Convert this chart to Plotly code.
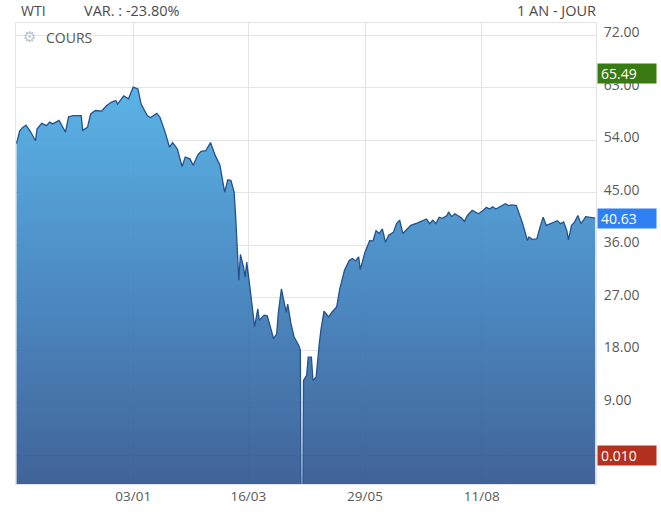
import plotly.graph_objects as go

# ---------------- data ----------------
dates = [
    "2019-10-21", "2019-10-23", "2019-10-25", "2019-10-27", "2019-10-30", "2019-11-02", "2019-11-03",
    "2019-11-06", "2019-11-09", "2019-11-11", "2019-11-13", "2019-11-15", "2019-11-17", "2019-11-21",
    "2019-11-23", "2019-11-26", "2019-12-01", "2019-12-02", "2019-12-05", "2019-12-07", "2019-12-10",
    "2019-12-14", "2019-12-17", "2019-12-20", "2019-12-23", "2019-12-24", "2019-12-28", "2019-12-31",
    "2020-01-03", "2020-01-06", "2020-01-08", "2020-01-12", "2020-01-14", "2020-01-18", "2020-01-20",
    "2020-01-23", "2020-01-26", "2020-01-28", "2020-01-31", "2020-02-03", "2020-02-05", "2020-02-08",
    "2020-02-10", "2020-02-13", "2020-02-15", "2020-02-18", "2020-02-21", "2020-02-24", "2020-02-27",
    "2020-03-01", "2020-03-03", "2020-03-05", "2020-03-07", "2020-03-08", "2020-03-10", "2020-03-11",
    "2020-03-13", "2020-03-14", "2020-03-15", "2020-03-17", "2020-03-18", "2020-03-20", "2020-03-22",
    "2020-03-23", "2020-03-26", "2020-03-28", "2020-03-30", "2020-04-01", "2020-04-03", "2020-04-04",
    "2020-04-06", "2020-04-08", "2020-04-09", "2020-04-10", "2020-04-12", "2020-04-14", "2020-04-17",
    "2020-04-18", "2020-04-19", "2020-04-20", "2020-04-22", "2020-04-23", "2020-04-25", "2020-04-26",
    "2020-04-28", "2020-04-30", "2020-05-01", "2020-05-03", "2020-05-06", "2020-05-08", "2020-05-11",
    "2020-05-13", "2020-05-16", "2020-05-19", "2020-05-21", "2020-05-23", "2020-05-25", "2020-05-26",
    "2020-05-29", "2020-06-01", "2020-06-03", "2020-06-05", "2020-06-07", "2020-06-09", "2020-06-11",
    "2020-06-13", "2020-06-16", "2020-06-18", "2020-06-20", "2020-06-22", "2020-06-24", "2020-06-27",
    "2020-07-01", "2020-07-04", "2020-07-07", "2020-07-09", "2020-07-11", "2020-07-13", "2020-07-15",
    "2020-07-17", "2020-07-20", "2020-07-21", "2020-07-23", "2020-07-25", "2020-07-27", "2020-07-29",
    "2020-07-31", "2020-08-02", "2020-08-05", "2020-08-07", "2020-08-09", "2020-08-12", "2020-08-14",
    "2020-08-16", "2020-08-18", "2020-08-20", "2020-08-22", "2020-08-26", "2020-08-28", "2020-08-30",
    "2020-09-02", "2020-09-04", "2020-09-06", "2020-09-09", "2020-09-10", "2020-09-12", "2020-09-15",
    "2020-09-17", "2020-09-19", "2020-09-21", "2020-09-24", "2020-09-26", "2020-09-28", "2020-09-30",
    "2020-10-02", "2020-10-04", "2020-10-05", "2020-10-07", "2020-10-09", "2020-10-11", "2020-10-13",
    "2020-10-16", "2020-10-20", "2020-10-22",
]
prices = [
    53.4, 55.6, 56.2, 56.6, 55.4, 53.9, 55.9,
    56.9, 56.5, 57.1, 56.8, 57.1, 57.4, 55.4,
    58.0, 58.2, 58.2, 55.7, 56.2, 58.5, 59.1,
    59.0, 59.9, 60.5, 60.8, 60.2, 61.6, 61.1,
    63.1, 62.8, 60.2, 58.2, 57.9, 58.6, 57.9,
    55.6, 52.8, 53.6, 52.5, 49.5, 51.1, 50.8,
    49.7, 51.5, 52.1, 52.2, 53.6, 51.4, 49.7,
    45.1, 47.2, 47.1, 45.1, 40.8, 30.0, 34.4,
    32.2, 30.5, 33.1, 28.8, 26.5, 22.0, 25.1,
    23.1, 24.0, 23.9, 22.0, 20.0, 20.8, 24.3,
    28.5, 26.2, 24.5, 25.9, 22.6, 20.3, 18.8,
    18.0, -37.63, 12.8, 13.7, 16.8, 16.8, 12.8,
    13.4, 19.1, 21.4, 24.7, 23.7, 24.5, 25.4,
    28.5, 31.7, 33.4, 33.7, 33.3, 34.0, 31.8,
    34.8, 36.8, 36.7, 38.5, 38.0, 38.8, 36.5,
    37.7, 38.2, 39.7, 40.3, 38.0, 38.6, 39.4,
    39.8, 40.2, 40.5, 39.7, 40.3, 39.7, 40.8,
    40.6, 41.1, 41.7, 40.9, 41.4, 41.1, 40.7,
    40.1, 41.1, 42.0, 41.7, 41.4, 42.0, 42.5,
    42.2, 42.6, 42.2, 42.5, 43.1, 42.8, 42.9,
    42.8, 41.4, 39.7, 36.8, 37.4, 37.0, 37.1,
    39.1, 40.8, 39.4, 39.7, 40.0, 40.2, 39.7,
    40.0, 38.5, 36.9, 39.4, 40.0, 41.1, 39.7,
    40.9, 40.7, 40.63,
]
x_tick_dates = ["2020-01-03", "2020-03-16", "2020-05-29", "2020-08-11"]
x_tick_labels = ["03/01", "16/03", "29/05", "11/08"]
y_tick_values = [0, 9, 18, 27, 36, 45, 54, 63, 72]
y_tick_labels = [""] + [f"{v:.2f}" for v in y_tick_values[1:]]

instrument = "WTI"
variation = "VAR. : -23.80%"
period = "1 AN - JOUR"
series_name = "COURS"
high_label, high_value = "65.49", 65.49
last_label, last_value = "40.63", 40.63
low_label, low_value = "0.010", 0.01

# ---------------- styling ----------------
Y_RANGE = [-4.95, 74.1]
X_RANGE = ["2019-10-20 16:00", "2020-10-22 12:00"]
FLOOR = -40
FONT = "Open Sans, Arial, sans-serif"
TEXT_COLOR = "#5a5a5a"
HEAD_COLOR = "#4a4a4a"
GRID = "#e4e4e4"

fig = go.Figure()
# invisible floor so the area fills down to the bottom of the plot
fig.add_trace(go.Scatter(x=dates, y=[FLOOR] * len(dates), mode="lines",
                         line=dict(width=0, color="rgba(0,0,0,0)"),
                         hoverinfo="skip", showlegend=False))
fig.add_trace(go.Scatter(
    x=dates, y=prices, mode="lines", name=series_name,
    line=dict(color="#23528f", width=1.3),
    fill="tonexty",
    fillgradient=dict(type="vertical", start=Y_RANGE[0], stop=max(prices),
                      colorscale=[[0, "rgba(50,88,145,0.93)"], [0.5, "rgba(63,130,190,0.93)"],
                                  [1, "rgba(78,174,228,0.93)"]]),
    showlegend=False,
))

fig.update_layout(
    width=661, height=517,
    margin=dict(l=16, r=65, t=23, b=33),
    paper_bgcolor="white", plot_bgcolor="white",
    font=dict(family=FONT, size=13, color=TEXT_COLOR),
    xaxis=dict(range=X_RANGE, tickvals=x_tick_dates, ticktext=x_tick_labels,
               showgrid=True, gridcolor=GRID, gridwidth=1, zeroline=False,
               showline=True, linecolor=GRID, mirror=True, ticks="",
               tickfont=dict(size=13.5, color=TEXT_COLOR)),
    yaxis=dict(range=Y_RANGE, side="right", tickvals=y_tick_values, ticktext=y_tick_labels,
               showgrid=True, gridcolor=GRID, gridwidth=1, zeroline=False,
               showline=True, linecolor=GRID, mirror=True, ticks="",
               ticklabelstandoff=4, ticklabelshift=-3,
               tickfont=dict(size=14, color=TEXT_COLOR)),
)

ann = []
ann.append(dict(text=instrument, xref="paper", yref="paper", x=0, y=1, xanchor="left",
                yanchor="middle", xshift=3, yshift=13, showarrow=False,
                font=dict(size=14, color=HEAD_COLOR)))
ann.append(dict(text=variation, xref="paper", yref="paper", x=0, y=1, xanchor="left",
                yanchor="middle", xshift=66, yshift=13, showarrow=False,
                font=dict(size=14.5, color=HEAD_COLOR)))
ann.append(dict(text=period, xref="paper", yref="paper", x=1, y=1, xanchor="right",
                yanchor="middle", xshift=2, yshift=13, showarrow=False,
                font=dict(size=14.5, color=HEAD_COLOR)))
ann.append(dict(text="⚙", xref="paper", yref="paper", x=0, y=1, xanchor="left",
                yanchor="middle", xshift=5, yshift=-14, showarrow=False,
                font=dict(family="DejaVu Sans", size=15, color="#b9c4d2")))
ann.append(dict(text=series_name, xref="paper", yref="paper", x=0, y=1, xanchor="left",
                yanchor="middle", xshift=28, yshift=-14, showarrow=False,
                font=dict(size=14, color="#555555")))
for lbl, val, col in [(high_label, high_value, "#3a7a12"),
                      (last_label, last_value, "#2f80f2"),
                      (low_label, low_value, "#b4311f")]:
    ann.append(dict(text=lbl, xref="paper", yref="y", x=1, y=val, xanchor="left",
                    yanchor="middle", xshift=1, showarrow=False, bgcolor=col,
                    width=52, height=13, align="left", borderpad=3,
                    font=dict(size=14, color="white")))
fig.update_layout(annotations=ann)

fig.write_html("out.html", config={"displayModeBar": False},
               post_script="document.body.style.margin='0';")
